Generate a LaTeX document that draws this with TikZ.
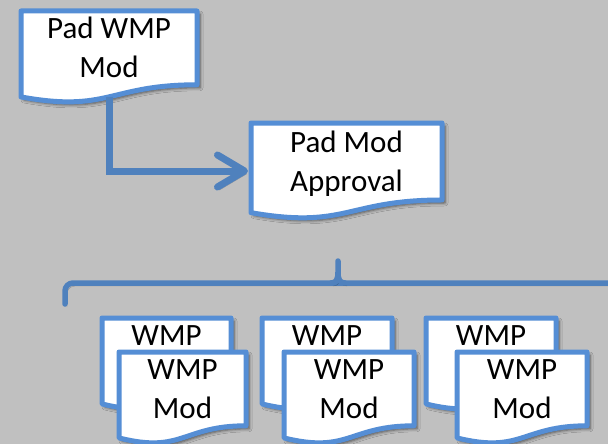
\documentclass[tikz,border=0pt]{standalone}
\usepackage{fontspec}
\setmainfont{Carlito}
\usetikzlibrary{arrows.meta,shadows.blur}
\definecolor{docblue}{RGB}{85,142,213}
\definecolor{linkblue}{RGB}{79,129,189}
\definecolor{sheet}{RGB}{192,192,192}

\begin{document}
\begin{tikzpicture}[x=1pt,y=-1pt,
  doc/.style={draw=docblue,line width=5pt,fill=white,line join=round,
    blur shadow={shadow xshift=3pt,shadow yshift=-3pt,shadow blur radius=3pt,shadow opacity=60}},
  docpath/.style n args={3}{insert path={-- ++(#1,0) -- ++(0,0.802*#2)
    .. controls +(-0.5*#1,0) and +(0.5*#1,0.174*#2) .. ++(-#1,0.132*#2)
    coordinate[pos=0.5] (#3) -- cycle}},
  doctext/.style={font=\fontsize{31}{39}\selectfont,align=center,inner sep=0pt},
  lineshadow/.style={preaction={draw=black,draw opacity=.25,transform canvas={xshift=2pt,yshift=-3pt}}},
  link/.style={draw=linkblue,line width=7pt,lineshadow,-{Straight Barb[length=27pt,width=32pt,round]}},
  brace/.style={draw=linkblue,line width=5.5pt,lineshadow,line cap=round,line join=round}]
\useasboundingbox (0,0) rectangle (608,444);
\fill[sheet] (0,0) rectangle (608,444);

% top documents
\draw[doc] (21,11) [docpath={176}{92}{padwmp-foot}];
\node[doctext] (padwmp) at (109,47) {Pad WMP\\Mod};
\draw[doc] (251,123) [docpath={191}{96}{padmod-foot}];
\node[doctext] (padmod) at (346.5,164) {Pad Mod\\Approval};
\coordinate (padmod-side) at (251,171);

\draw[link,shorten >=3pt] (padwmp-foot) |- (padmod-side);

% brace
\draw[brace,rounded corners=8pt] (65,304) -- (65,283) -- (612,283);
\draw[brace] (331,283) .. controls (336,283) and (338,280) .. (338,272) -- (338,261)
  (338,272) .. controls (338,280) and (340,283) .. (345,283);

% document stacks
\draw[doc] (102,318) [docpath={129}{92}{wmp1-foot}];
\node[doctext,anchor=base] (wmp1) at (166.5,345) {WMP};
\draw[doc] (119,352) [docpath={127}{92}{wmpmod1-foot}];
\node[doctext] (wmpmod1) at (182.5,389) {WMP\\Mod};

\draw[doc] (262,318) [docpath={130}{92}{wmp2-foot}];
\node[doctext,anchor=base] (wmp2) at (327,345) {WMP};
\draw[doc] (284,352) [docpath={130}{92}{wmpmod2-foot}];
\node[doctext] (wmpmod2) at (349,389) {WMP\\Mod};

\draw[doc] (426,318) [docpath={130}{92}{wmp3-foot}];
\node[doctext,anchor=base] (wmp3) at (491,345) {WMP};
\draw[doc] (457,352) [docpath={130}{92}{wmpmod3-foot}];
\node[doctext] (wmpmod3) at (522,389) {WMP\\Mod};
\end{tikzpicture}
\end{document}
